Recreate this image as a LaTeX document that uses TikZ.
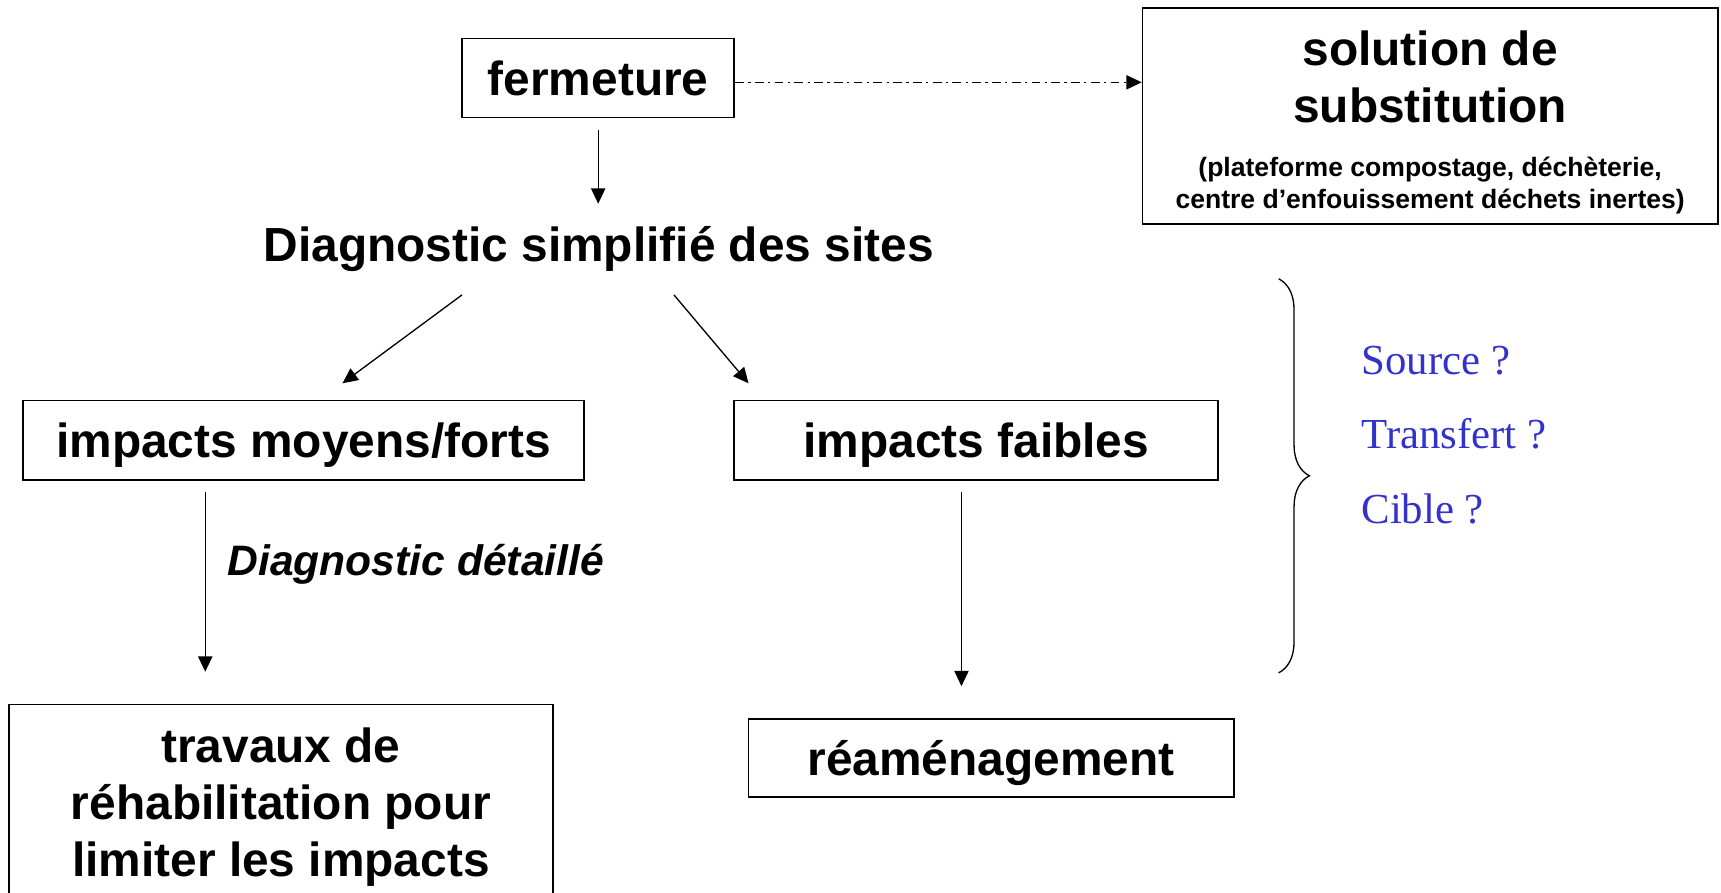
\documentclass[tikz,border=0pt]{standalone}
\usepackage{fontspec}
\setmainfont{Liberation Sans}
\newfontfamily\seriffont{Liberation Serif}
\usetikzlibrary{positioning,calc,arrows.meta,decorations.pathreplacing}
\tikzset{>={Triangle[length=7pt,width=6.5pt]}}
\definecolor{bleuq}{RGB}{51,51,204}
\newcommand\policegrande{\fontsize{21.8pt}{26pt}\selectfont\bfseries}
\newcommand\policepetite{\fontsize{12.1pt}{14.5pt}\selectfont\bfseries}
\newcommand\policeitalique{\fontsize{19.4pt}{23pt}\selectfont\bfseries\itshape}
\newcommand\policequestion{\fontsize{19.5pt}{23pt}\selectfont\seriffont}

\begin{document}
\begin{tikzpicture}[x=0.5pt,y=-0.5pt,%
                    etape/.style={draw,thick,inner sep=0pt,minimum height=36pt,text depth=0pt,font=\policegrande},
                    texte/.style={inner sep=0pt},
                    fleche/.style={->,semithick},
        ]
        \useasboundingbox (0,0) rectangle (1568,813.6);
        \clip (0,0) rectangle (1568,813.6);
        \node[etape,minimum width=124pt] (fer) at (545,71) {fermeture};
        \node[etape,minimum width=262pt,minimum height=98.5pt] (sol) at (1303,105.5) {};
        \node[texte,font=\policegrande,align=center,anchor=north] (soltitre) at (1303,28) {solution de\\substitution};
        \node[texte,font=\policepetite,align=center,anchor=north] (solnote) at (1303,143) {(plateforme compostage, déchèterie,\\centre d’enfouissement déchets inertes)};
        \node[texte,font=\policegrande,anchor=base] (diag) at (545.5,238) {Diagnostic simplifié des sites};
        \node[etape,minimum width=255.5pt] (fort) at (276.5,401) {impacts moyens/forts};
        \node[etape,minimum width=220.5pt] (faible) at (889.5,401) {impacts faibles};
        \node[etape,minimum width=248pt,minimum height=120pt,anchor=north] (trav) at (256,641) {};
        \node[texte,font=\policegrande,align=center,anchor=north] (travtxt) at (256,663) {travaux de\\réhabilitation pour\\limiter les impacts};
        \node[etape,minimum width=221pt,minimum height=35.5pt] (rea) at (903,690.5) {réaménagement};
        \node[texte,font=\policeitalique,anchor=base west] (detail) at (207,524) {Diagnostic détaillé};
        \node[texte,font=\policequestion,text=bleuq,anchor=base west] (source) at (1240,341) {Source ?};
        \node[texte,font=\policequestion,text=bleuq,anchor=base west] (transfert) at (1240,409) {Transfert ?};
        \node[texte,font=\policequestion,text=bleuq,anchor=base west] (cible) at (1240,477) {Cible ?};
%
        \draw[fleche,dash pattern=on 4pt off 2pt on 1pt off 2pt] ($(fer.east)+(0,4)$) -- ($(fer.east -| sol.west)+(0,4)$);
        \draw[fleche,shorten <=5.5pt,shorten >=10pt] (fer.south) -- (fer.south |- diag.north);
        \draw[fleche] ($(diag.south)+(-124.5,21)$) -- ($(fort.north)+(35.5,-15)$);
        \draw[fleche] ($(diag.south)+(68.5,21)$) -- ($(faible.north)+(-207.5,-15)$);
        \draw[fleche,shorten <=5pt,shorten >=14.5pt] ($(fort.south)+(-89.5,0)$) -- ($(fort.south |- trav.north)+(-89.5,0)$);
        \draw[fleche,shorten <=5pt,shorten >=14.5pt] ($(faible.south)+(-13.5,0)$) -- ($(faible.south |- rea.north)+(-13.5,0)$);
        \draw[decoration={brace,amplitude=14pt},decorate,semithick] (1165,254) -- (1165,613);
    \end{tikzpicture}
\end{document}
